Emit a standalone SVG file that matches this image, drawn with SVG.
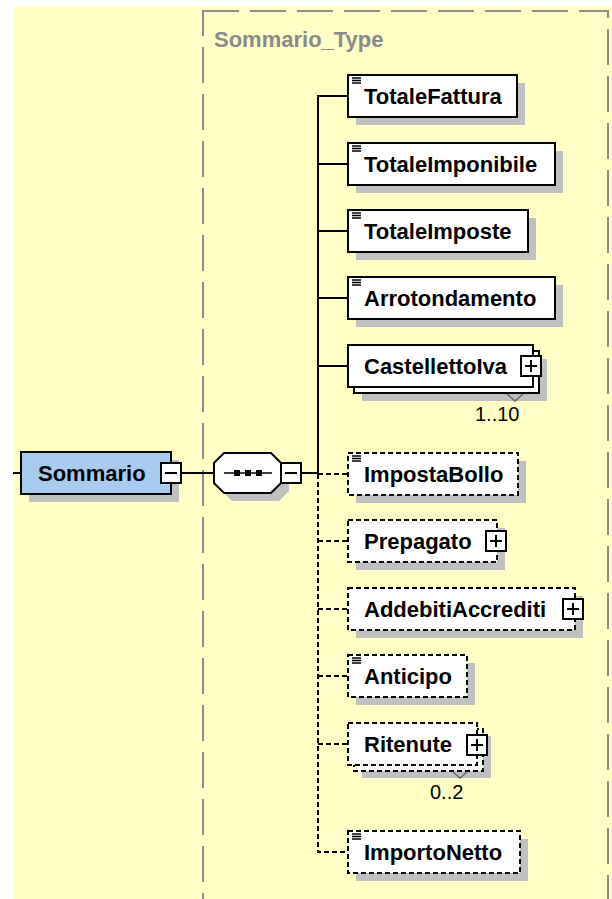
<svg xmlns="http://www.w3.org/2000/svg" width="612" height="899" viewBox="0 0 612 899">
<style>
.bg{fill:#FFFFC6}
.bx{fill:#fff;stroke:#000;stroke-width:2}
.dbx{fill:#fff;stroke:#000;stroke-width:2;stroke-dasharray:5 3}
.sh{fill:#C0C0C0}
.lbl{font-family:"Liberation Sans",Arial,sans-serif;font-weight:bold;font-size:22px;fill:#000}
.occ{font-family:"Liberation Sans",Arial,sans-serif;font-size:20px;fill:#000}
.ln{stroke:#000;stroke-width:2;fill:none}
.dln{stroke:#000;stroke-width:2;fill:none;stroke-dasharray:5 3}
.ic{stroke:#000;stroke-width:1.3}
.pm{fill:#fff;stroke:#000;stroke-width:2}
.chev{stroke:#666;stroke-width:1.5;fill:none}
</style>
<defs>
<g id="plus"><rect class="pm" x="0" y="0" width="20" height="20"/><path d="M4,10H16M10,4V16" stroke="#000" stroke-width="2"/></g>
<g id="minus"><rect class="pm" x="0" y="0" width="20" height="20"/><path d="M4,10H16" stroke="#000" stroke-width="2"/></g>
<g id="icon"><path class="ic" d="M0,3H9M0,5.5H9M0,8H9"/></g>
</defs>
<rect class="bg" x="13" y="6" width="599" height="893"/>
<g id="type-box">
<rect x="203" y="11" width="405" height="900" fill="none" stroke="#8C8C8C" stroke-width="2" stroke-dasharray="36 11"/>
<text x="214" y="47" font-family="Liberation Sans, Arial, sans-serif" font-weight="bold" font-size="22" fill="#8A8A8A">Sommario_Type</text>
</g>
<g id="connectors">
<path class="ln" d="M13,473H21"/>
<path class="ln" d="M181,473H214"/>
<path class="ln" d="M301,473H318"/>
<path class="ln" d="M348,96H318V474"/>
<path class="ln" d="M318,164H348"/>
<path class="ln" d="M318,231H348"/>
<path class="ln" d="M318,298H348"/>
<path class="ln" d="M318,366H348"/>
<path class="dln" d="M318,474V852H348"/>
<path class="dln" d="M318,474H348"/>
<path class="dln" d="M318,541H348"/>
<path class="dln" d="M318,609H348"/>
<path class="dln" d="M318,676H348"/>
<path class="dln" d="M318,744H348"/>
</g>
<g id="Sommario">
<rect class="sh" x="29" y="460" width="150" height="42"/>
<rect x="21" y="452" width="150" height="42" fill="#A8CBF0" stroke="#000" stroke-width="2"/>
<text class="lbl" x="38" y="481">Sommario</text>
<use href="#minus" x="161" y="463"/>
</g>
<g id="sequence">
<polygon class="sh" points="232,461 279,461 289,471 289,491 279,501 232,501 222,491 222,471"/>
<polygon class="bx" points="224,453 271,453 281,463 281,483 271,493 224,493 214,483 214,463"/>
<path d="M224,473H272" stroke="#000" stroke-width="1.5"/>
<rect x="234" y="470" width="6" height="6" fill="#000"/>
<rect x="245" y="470" width="6" height="6" fill="#000"/>
<rect x="256" y="470" width="6" height="6" fill="#000"/>
<use href="#minus" x="281" y="463"/>
</g>
<g id="TotaleFattura">
<rect class="sh" x="356" y="83" width="169" height="42"/>
<rect class="bx" x="348" y="75" width="169" height="42"/>
<use href="#icon" x="352" y="75"/>
<text class="lbl" x="364" y="104">TotaleFattura</text>
</g>
<g id="TotaleImponibile">
<rect class="sh" x="356" y="151" width="207" height="42"/>
<rect class="bx" x="348" y="143" width="207" height="42"/>
<use href="#icon" x="352" y="143"/>
<text class="lbl" x="364" y="172">TotaleImponibile</text>
</g>
<g id="TotaleImposte">
<rect class="sh" x="356" y="218" width="180" height="42"/>
<rect class="bx" x="348" y="210" width="180" height="42"/>
<use href="#icon" x="352" y="210"/>
<text class="lbl" x="364" y="239">TotaleImposte</text>
</g>
<g id="Arrotondamento">
<rect class="sh" x="356" y="285" width="207" height="42"/>
<rect class="bx" x="348" y="277" width="207" height="42"/>
<use href="#icon" x="352" y="277"/>
<text class="lbl" x="364" y="306">Arrotondamento</text>
</g>
<g id="CastellettoIva">
<rect class="sh" x="362" y="359" width="185" height="42"/>
<rect class="bx" x="354" y="351" width="185" height="42"/>
<rect class="bx" x="348" y="345" width="185" height="42"/>
<text class="lbl" x="364" y="374">CastellettoIva</text>
<use href="#plus" x="521" y="356"/>
<path class="chev" d="M507,394L515,401L523,394"/>
<text class="occ" x="475" y="421">1..10</text>
</g>
<g id="ImpostaBollo">
<rect class="sh" x="356" y="461" width="170" height="42"/>
<rect class="dbx" x="348" y="453" width="170" height="42"/>
<use href="#icon" x="352" y="453"/>
<text class="lbl" x="364" y="482">ImpostaBollo</text>
</g>
<g id="Prepagato">
<rect class="sh" x="356" y="528" width="149" height="42"/>
<rect class="dbx" x="348" y="520" width="149" height="42"/>
<text class="lbl" x="364" y="549">Prepagato</text>
<use href="#plus" x="486" y="531"/>
</g>
<g id="AddebitiAccrediti">
<rect class="sh" x="356" y="596" width="227" height="42"/>
<rect class="dbx" x="348" y="588" width="227" height="42"/>
<text class="lbl" x="364" y="617">AddebitiAccrediti</text>
<use href="#plus" x="563" y="599"/>
</g>
<g id="Anticipo">
<rect class="sh" x="356" y="663" width="119" height="42"/>
<rect class="dbx" x="348" y="655" width="119" height="42"/>
<use href="#icon" x="352" y="655"/>
<text class="lbl" x="364" y="684">Anticipo</text>
</g>
<g id="Ritenute">
<rect class="sh" x="362" y="736" width="129" height="42"/>
<rect class="dbx" x="354" y="729" width="129" height="42"/>
<rect class="dbx" x="348" y="723" width="129" height="42"/>
<text class="lbl" x="364" y="752">Ritenute</text>
<use href="#plus" x="467" y="735"/>
<path class="chev" d="M453,772L460,778L467,772"/>
<text class="occ" x="430" y="799">0..2</text>
</g>
<g id="ImportoNetto">
<rect class="sh" x="356" y="839" width="172" height="42"/>
<rect class="dbx" x="348" y="831" width="172" height="42"/>
<use href="#icon" x="352" y="831"/>
<text class="lbl" x="364" y="860">ImportoNetto</text>
</g>
</svg>
